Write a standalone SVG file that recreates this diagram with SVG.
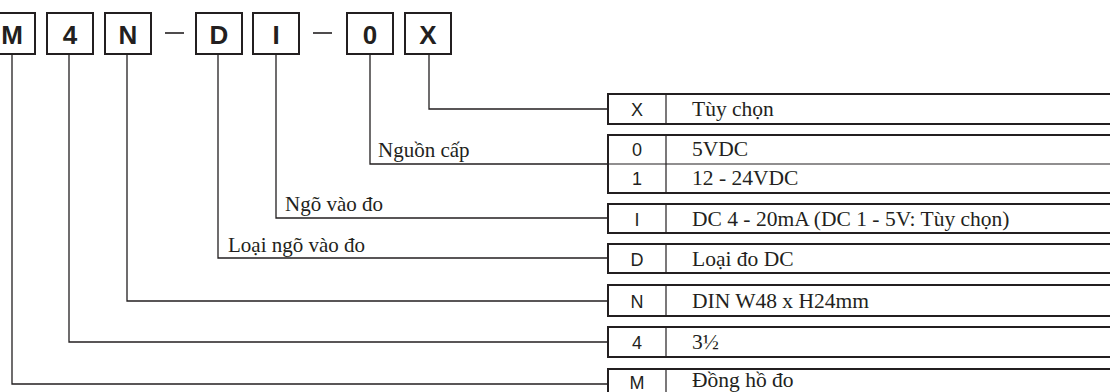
<svg xmlns="http://www.w3.org/2000/svg" width="1110" height="392" viewBox="0 0 1110 392">
  <style>
    .code-box { fill: #ffffff; stroke: #231f20; stroke-width: 2; }
    .code { font-family: "Liberation Sans", Arial, sans-serif; font-weight: bold; font-size: 26px; fill: #231f20; text-anchor: middle; }
    .dash { stroke: #231f20; stroke-width: 1.6; }
    .row { fill: #ffffff; stroke: #231f20; stroke-width: 2; }
    .thin { stroke: #231f20; stroke-width: 1.2; fill: none; }
    .key { font-family: "Liberation Sans", Arial, sans-serif; font-size: 18px; fill: #231f20; text-anchor: middle; }
    .desc { font-family: "Liberation Serif", "Times New Roman", serif; font-size: 21.5px; fill: #231f20; }
    .label { font-family: "Liberation Serif", "Times New Roman", serif; font-size: 21px; fill: #231f20; }
    .wire { stroke: #231f20; stroke-width: 1.3; fill: none; }
  </style>
  <rect width="1110" height="392" fill="#ffffff"/>

  <!-- model code boxes -->
  <g id="code-M"><rect class="code-box" x="-11" y="13" width="46" height="41"/><text class="code" x="12" y="44">M</text></g>
  <g id="code-4"><rect class="code-box" x="47" y="13" width="46" height="41"/><text class="code" x="70" y="44">4</text></g>
  <g id="code-N"><rect class="code-box" x="105" y="13" width="46" height="41"/><text class="code" x="128" y="44">N</text></g>
  <g id="sep-1"><line class="dash" x1="165" y1="33" x2="184" y2="33"/></g>
  <g id="code-D"><rect class="code-box" x="196" y="13" width="46" height="41"/><text class="code" x="219" y="44">D</text></g>
  <g id="code-I"><rect class="code-box" x="253" y="13" width="46" height="41"/><text class="code" x="276" y="44">I</text></g>
  <g id="sep-2"><line class="dash" x1="313" y1="33" x2="332" y2="33"/></g>
  <g id="code-0"><rect class="code-box" x="347" y="13" width="46" height="41"/><text class="code" x="370" y="44">0</text></g>
  <g id="code-X"><rect class="code-box" x="405" y="13" width="46" height="41"/><text class="code" x="428" y="44">X</text></g>

  <!-- option tables -->
  <g id="opt-X">
    <rect class="row" x="608" y="94" width="510" height="30"/>
    <line class="thin" x1="666" y1="94" x2="666" y2="124"/>
    <text class="key" x="637" y="116">X</text>
    <text class="desc" x="692" y="116">Tùy chọn</text>
  </g>
  <g id="opt-power">
    <rect class="row" x="608" y="135" width="510" height="58"/>
    <line class="thin" x1="608" y1="164" x2="1110" y2="164"/>
    <line class="thin" x1="666" y1="135" x2="666" y2="193"/>
    <text class="key" x="637" y="156">0</text>
    <text class="desc" x="692" y="156">5VDC</text>
    <text class="key" x="637" y="185">1</text>
    <text class="desc" x="692" y="185">12 - 24VDC</text>
  </g>
  <g id="opt-I">
    <rect class="row" x="608" y="204" width="510" height="29"/>
    <line class="thin" x1="666" y1="204" x2="666" y2="233"/>
    <text class="key" x="637" y="226">I</text>
    <text class="desc" x="692" y="226">DC 4 - 20mA (DC 1 - 5V: Tùy chọn)</text>
  </g>
  <g id="opt-D">
    <rect class="row" x="608" y="244" width="510" height="29"/>
    <line class="thin" x1="666" y1="244" x2="666" y2="273"/>
    <text class="key" x="637" y="266">D</text>
    <text class="desc" x="692" y="266">Loại đo DC</text>
  </g>
  <g id="opt-N">
    <rect class="row" x="608" y="285" width="510" height="31"/>
    <line class="thin" x1="666" y1="285" x2="666" y2="316"/>
    <text class="key" x="637" y="308">N</text>
    <text class="desc" x="692" y="308">DIN W48 x H24mm</text>
  </g>
  <g id="opt-4">
    <rect class="row" x="608" y="327" width="510" height="30"/>
    <line class="thin" x1="666" y1="327" x2="666" y2="357"/>
    <text class="key" x="637" y="349">4</text>
    <text class="desc" x="692" y="349">3½</text>
  </g>
  <g id="opt-M">
    <rect class="row" x="608" y="369" width="510" height="30"/>
    <line class="thin" x1="666" y1="369" x2="666" y2="399"/>
    <text class="key" x="637" y="389">M</text>
    <text class="desc" x="692" y="387">Đồng hồ đo</text>
  </g>

  <!-- leader lines from each code box to its table -->
  <g id="connectors">
    <polyline class="wire" points="429,54 429,109 608,109"/>
    <polyline class="wire" points="370,54 370,164 608,164"/>
    <polyline class="wire" points="276,54 276,218 608,218"/>
    <polyline class="wire" points="218,54 218,258 608,258"/>
    <polyline class="wire" points="127,54 127,301 608,301"/>
    <polyline class="wire" points="69,54 69,342 608,342"/>
    <polyline class="wire" points="12,54 12,384 608,384"/>
  </g>

  <!-- leader labels -->
  <g id="labels">
    <text class="label" x="378" y="157">Nguồn cấp</text>
    <text class="label" x="285" y="211">Ngõ vào đo</text>
    <text class="label" x="228" y="252">Loại ngõ vào đo</text>
  </g>
</svg>
